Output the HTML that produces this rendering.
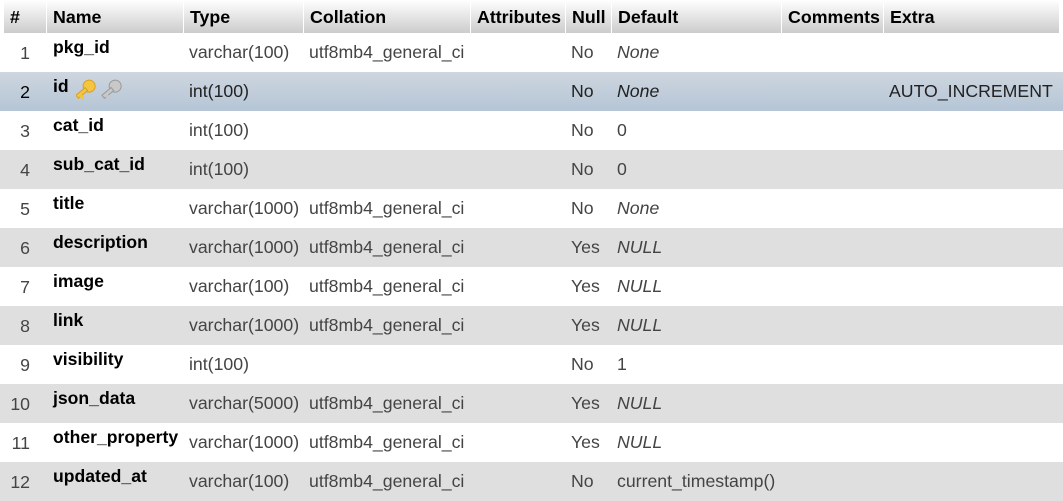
<!DOCTYPE html>
<html><head><meta charset="utf-8"><style>
*{margin:0;padding:0;box-sizing:border-box}
body{width:1063px;height:496px;overflow:hidden;background:#fff;font-family:"Liberation Sans",Arial,sans-serif;position:relative}
.h{position:absolute;top:0;height:33px;background:linear-gradient(#fff,#ccc);font-weight:bold;font-size:17.8px;color:#000;line-height:35px;padding-left:6px;white-space:nowrap}
.r{position:absolute;left:0;width:1063px;height:39px}
.e{background:#dfdfdf}
.s{background:linear-gradient(#ced6df,#b5c5d6)}
.t{position:absolute;font-size:17.7px;color:#444;top:9px;white-space:nowrap}
.n{position:absolute;font-size:17.6px;font-weight:bold;color:#000;top:4px;left:53px;white-space:nowrap}
.num{position:absolute;right:1033px;top:10px;font-size:17.7px;color:#444}
i{font-style:italic}
</style></head><body>
<div class="h" style="left:4px;width:42px">#</div>
<div class="h" style="left:47px;width:136px">Name</div>
<div class="h" style="left:184px;width:119px">Type</div>
<div class="h" style="left:304px;width:166px">Collation</div>
<div class="h" style="left:471px;width:94px">Attributes</div>
<div class="h" style="left:566px;width:45px">Null</div>
<div class="h" style="left:612px;width:169px">Default</div>
<div class="h" style="left:782px;width:101px">Comments</div>
<div class="h" style="left:884px;width:175px">Extra</div>

<div class="r" style="top:33px"><span class="num">1</span><span class="n">pkg_id</span><span class="t" style="left:189px">varchar(100)</span><span class="t" style="left:309px">utf8mb4_general_ci</span><span class="t" style="left:571px">No</span><span class="t" style="left:617px"><i>None</i></span></div>
<div class="r s" style="top:72px"><span class="num" style="color:#000">2</span><span class="n">id</span>
<svg style="position:absolute;left:76px;top:7px" width="52" height="24"><g transform="rotate(-40 12 12)"><circle cx="16" cy="9" r="6" fill="#f5c542" stroke="#d9a01c"/><rect x="0" y="7.5" width="12" height="4" fill="#f5c542" stroke="#d9a01c"/><rect x="2" y="11" width="3" height="4" fill="#f5c542"/></g><g transform="translate(26,0) rotate(-40 12 12)"><circle cx="16" cy="9" r="6" fill="#c8c8c8" stroke="#999"/><rect x="0" y="7.5" width="12" height="4" fill="#c8c8c8" stroke="#999"/><rect x="2" y="11" width="3" height="4" fill="#c8c8c8"/></g></svg>
<span class="t" style="left:189px;color:#222">int(100)</span><span class="t" style="left:571px;color:#222">No</span><span class="t" style="left:617px;color:#222"><i>None</i></span><span class="t" style="left:889px;color:#222">AUTO_INCREMENT</span></div>
<div class="r" style="top:111px"><span class="num">3</span><span class="n">cat_id</span><span class="t" style="left:189px">int(100)</span><span class="t" style="left:571px">No</span><span class="t" style="left:617px">0</span></div>
<div class="r e" style="top:150px"><span class="num">4</span><span class="n">sub_cat_id</span><span class="t" style="left:189px">int(100)</span><span class="t" style="left:571px">No</span><span class="t" style="left:617px">0</span></div>
<div class="r" style="top:189px"><span class="num">5</span><span class="n">title</span><span class="t" style="left:189px">varchar(1000)</span><span class="t" style="left:309px">utf8mb4_general_ci</span><span class="t" style="left:571px">No</span><span class="t" style="left:617px"><i>None</i></span></div>
<div class="r e" style="top:228px"><span class="num">6</span><span class="n">description</span><span class="t" style="left:189px">varchar(1000)</span><span class="t" style="left:309px">utf8mb4_general_ci</span><span class="t" style="left:571px">Yes</span><span class="t" style="left:617px"><i>NULL</i></span></div>
<div class="r" style="top:267px"><span class="num">7</span><span class="n">image</span><span class="t" style="left:189px">varchar(100)</span><span class="t" style="left:309px">utf8mb4_general_ci</span><span class="t" style="left:571px">Yes</span><span class="t" style="left:617px"><i>NULL</i></span></div>
<div class="r e" style="top:306px"><span class="num">8</span><span class="n">link</span><span class="t" style="left:189px">varchar(1000)</span><span class="t" style="left:309px">utf8mb4_general_ci</span><span class="t" style="left:571px">Yes</span><span class="t" style="left:617px"><i>NULL</i></span></div>
<div class="r" style="top:345px"><span class="num">9</span><span class="n">visibility</span><span class="t" style="left:189px">int(100)</span><span class="t" style="left:571px">No</span><span class="t" style="left:617px">1</span></div>
<div class="r e" style="top:384px"><span class="num">10</span><span class="n">json_data</span><span class="t" style="left:189px">varchar(5000)</span><span class="t" style="left:309px">utf8mb4_general_ci</span><span class="t" style="left:571px">Yes</span><span class="t" style="left:617px"><i>NULL</i></span></div>
<div class="r" style="top:423px"><span class="num">11</span><span class="n">other_property</span><span class="t" style="left:189px">varchar(1000)</span><span class="t" style="left:309px">utf8mb4_general_ci</span><span class="t" style="left:571px">Yes</span><span class="t" style="left:617px"><i>NULL</i></span></div>
<div class="r e" style="top:462px"><span class="num">12</span><span class="n">updated_at</span><span class="t" style="left:189px">varchar(100)</span><span class="t" style="left:309px">utf8mb4_general_ci</span><span class="t" style="left:571px">No</span><span class="t" style="left:617px">current_timestamp()</span></div>
</body></html>
